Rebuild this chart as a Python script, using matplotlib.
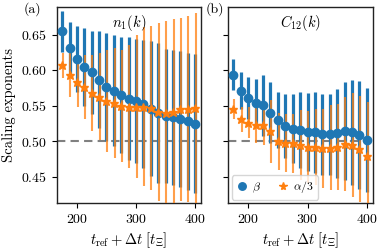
import numpy as np
import matplotlib
matplotlib.use('Agg')
from matplotlib import pyplot as plt

plt.rcParams['font.family'] = 'serif'
plt.rcParams['font.serif'] = ['cmr10', 'DejaVu Serif']
plt.rcParams['mathtext.fontset'] = 'cm'
plt.rcParams['axes.formatter.use_mathtext'] = True
plt.rcParams['font.size'] = 10

# time points t_ref + dt
t = np.arange(175, 400.1, 12.5)

# panel (a): n_1(k)
beta_a = [0.655, 0.631, 0.616, 0.605, 0.597, 0.587, 0.576, 0.571, 0.565, 0.560,
          0.557, 0.552, 0.546, 0.540, 0.536, 0.534, 0.531, 0.528, 0.525]
beta_a_err = [0.029, 0.037, 0.046, 0.055, 0.058, 0.068, 0.076, 0.078, 0.082, 0.087,
              0.087, 0.090, 0.095, 0.098, 0.094, 0.095, 0.096, 0.096, 0.098]
alpha_a = [0.607, 0.594, 0.584, 0.576, 0.568, 0.563, 0.557, 0.554, 0.550, 0.549,
           0.549, 0.549, 0.547, 0.541, 0.540, 0.541, 0.545, 0.546, 0.547]
alpha_a_err = [0.018, 0.031, 0.036, 0.045, 0.054, 0.061, 0.072, 0.078, 0.079, 0.087,
               0.101, 0.112, 0.115, 0.125, 0.129, 0.131, 0.129, 0.131, 0.134]

# panel (b): C_12(k)
beta_b = [0.594, 0.571, 0.561, 0.554, 0.551, 0.540, 0.530, 0.522, 0.518, 0.516,
          0.513, 0.513, 0.510, 0.510, 0.511, 0.514, 0.513, 0.509, 0.502]
beta_b_err = [0.022, 0.026, 0.029, 0.034, 0.043, 0.043, 0.040, 0.045, 0.049, 0.053,
              0.055, 0.057, 0.057, 0.057, 0.062, 0.069, 0.074, 0.076, 0.073]
alpha_b = [0.545, 0.531, 0.526, 0.523, 0.523, 0.514, 0.500, 0.498, 0.497, 0.495,
           0.492, 0.492, 0.490, 0.491, 0.492, 0.496, 0.495, 0.489, 0.480]
alpha_b_err = [0.014, 0.018, 0.022, 0.025, 0.028, 0.044, 0.040, 0.041, 0.041, 0.049,
               0.050, 0.054, 0.056, 0.060, 0.061, 0.066, 0.073, 0.075, 0.076]

titles = [r'$n_1(k)$', r'$C_{12}(k)$']
panels = ['(a)', '(b)']
label_x = [-0.167, -0.09]

fig = plt.figure(figsize=(3.82, 2.52), dpi=100)
ax1 = fig.add_axes([0.149, 0.194, 0.377, 0.778])
ax2 = fig.add_axes([0.597, 0.194, 0.379, 0.778], sharey=ax1)

data = [(beta_a, beta_a_err, alpha_a, alpha_a_err),
        (beta_b, beta_b_err, alpha_b, alpha_b_err)]

for ax, (b, be, a, ae), ttl, lab, lx in zip([ax1, ax2], data, titles, panels, label_x):
    ax.axhline(0.5, color='gray', ls='--', lw=1.5, dashes=(4, 2.5), zorder=1)
    ax.errorbar(t, b, yerr=be, fmt='none', ecolor='C0', elinewidth=2.3, zorder=2)
    ax.errorbar(t + 1.2, a, yerr=ae, fmt='none', ecolor='C1', elinewidth=1.5,
                alpha=0.75, zorder=3)
    ax.plot(t, b, 'o', color='C0', ms=6, ls='none', zorder=4, label=r'$\beta$')
    ax.plot(t, a, '*', color='C1', ms=6.3, ls='none', zorder=5, label=r'$\alpha/3$')
    ax.set_xlim(166, 410)
    ax.set_xticks([200, 300, 400])
    ax.set_xlabel(r'$t_{\rm ref} + \Delta t\ [t_\Xi]$', fontsize=10.5, labelpad=3)
    ax.text(0.5, 0.92, ttl, transform=ax.transAxes, ha='center', va='center',
            fontsize=10.5)
    ax.text(lx, 0.99, lab, transform=ax.transAxes, ha='center', va='center',
            fontsize=10)
    ax.tick_params(direction='out', length=3.5, width=0.8, labelsize=10)
    for s in ax.spines.values():
        s.set_linewidth(1.0)
        s.set_color('#222222')

ax1.set_ylim(0.413, 0.689)
ax1.set_yticks([0.45, 0.50, 0.55, 0.60, 0.65])
ax1.set_ylabel('Scaling exponents', fontsize=10.5)
ax2.tick_params(labelleft=False)

ax2.legend(loc='lower left', ncol=2, fontsize=8.5, handletextpad=0.3,
           columnspacing=1.3, borderpad=0.35, handlelength=1.1, markerscale=0.9,
           framealpha=0.8, fancybox=True, borderaxespad=0.3)

fig.savefig('out.png', dpi=100)
